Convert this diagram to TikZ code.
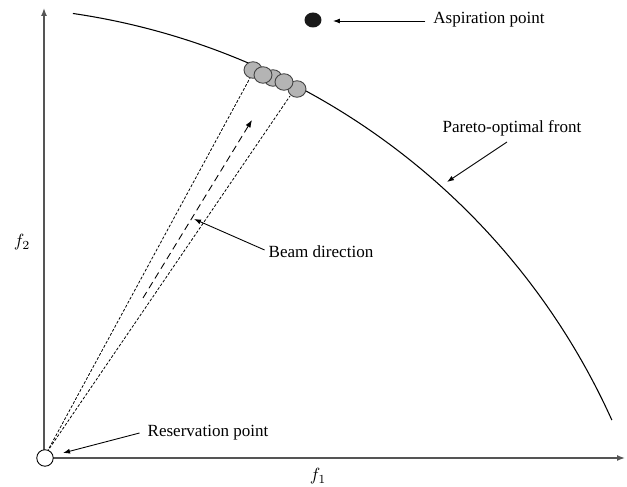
\documentclass[tikz,border=0pt]{standalone}
\usepackage{fontspec}
\setmainfont{Liberation Serif}
\usepackage{tikz}
\usetikzlibrary{arrows.meta, positioning, shapes.geometric}
\definecolor{cBead}{RGB}{180,180,180}
\definecolor{cAxis}{RGB}{85,85,85}
\tikzset{
	axisline/.style ={cAxis, line width=0.8pt, -{Latex[length=1.6mm, width=1.2mm]}},
	front/.style    ={black, line width=0.6pt},
	bead/.style     ={ellipse, draw=black!75, fill=cBead, line width=0.5pt, minimum width=0.36cm, minimum height=0.33cm, inner sep=0pt},
	lbl/.style      ={font=\fontsize{9.7}{11}\selectfont, inner sep=1pt},
	pointer/.style  ={-{Latex[length=1.4mm, width=1mm]}, line width=0.5pt},
	beamedge/.style ={dash pattern=on 1.6pt off 1pt, line width=0.45pt},
	beamarrow/.style={dash pattern=on 4pt off 2.5pt, line width=0.5pt, -{Latex[length=1.5mm, width=1.1mm]}},
}
\begin{document}
\begin{tikzpicture}[x=0.02cm, y=0.02cm]
	\useasboundingbox (0,0) rectangle (627,487);
	% axes
	\coordinate (o) at (44,29);
	\coordinate (ytop) at (44,479);
	\coordinate (xend) at (625,29);
	\draw[axisline] (o) -- (ytop);
	\draw[axisline] (o) -- (xend);
	\node at (22,245) {$f_2$};
	\node at (318,11) {$f_1$};
	% pareto front
	\coordinate (ctr) at (-29,-222);
	\draw[front] (ctr) ++(81.66:703) arc[start angle=81.66, end angle=24.27, radius=703];
	% beam
	\coordinate (b0) at (47,35);
	\coordinate (bl) at (250,409);
	\coordinate (br) at (290,391);
	\draw[beamedge] (b0) -- (bl);
	\draw[beamedge] (b0) -- (br);
	\coordinate (bs) at (143,189);
	\coordinate (be) at (252,367);
	\draw[beamarrow] (bs) -- (be);
	% beads on the front
	\node[bead] (b1) at (253,417) {};
	\node[bead] (b3) at (273,409) {};
	\node[bead] (b5) at (297,398) {};
	\node[bead] (b2) at (263,412) {};
	\node[bead] (b4) at (284,405) {};
	% reservation and aspiration points
	\node[circle, draw=black, fill=white, line width=0.5pt, minimum size=0.33cm, inner sep=0pt] (res) at (45,29) {};
	\node[ellipse, fill=black!90, minimum width=0.34cm, minimum height=0.3cm, inner sep=0pt] (asp) at (313,467) {};
	% labels
	\node[lbl] (aspl) at (489,467) {Aspiration point};
	\node[lbl] (resl) at (208,54) {Reservation point};
	\node[lbl] (frl) at (512,359) {Pareto-optimal front};
	\node[lbl] (bml) at (321,235) {Beam direction};
	\coordinate (aspt) at (333,466);
	\coordinate (rest) at (63,34);
	\coordinate (frt) at (447,305);
	\coordinate (bmt) at (194,268);
	\draw[pointer] (aspl.west) ++(-6,-1) -- (aspt);
	\draw[pointer] (resl.west) ++(-6,0) -- (rest);
	\draw[pointer] (507,345) -- (frt);
	\draw[pointer] (bml.west) ++(-2,2) -- (bmt);
\end{tikzpicture}
\end{document}
